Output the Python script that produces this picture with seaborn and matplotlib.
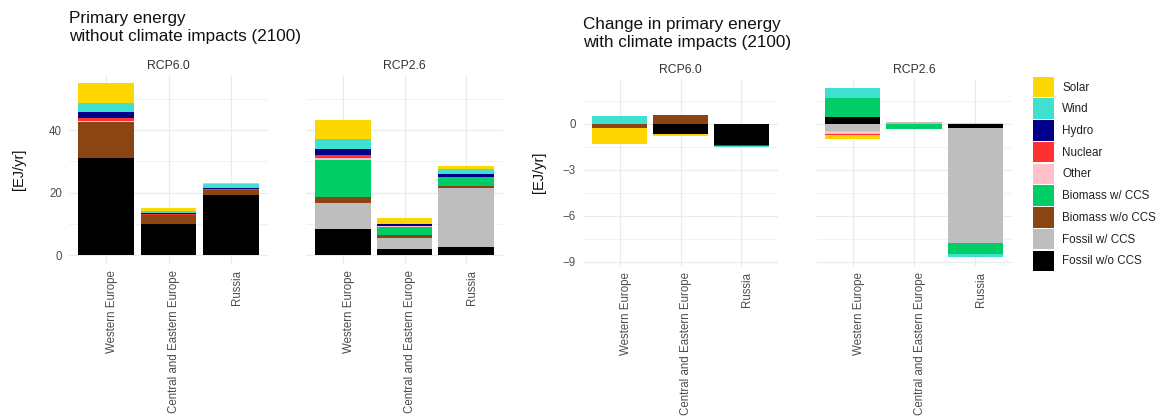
import numpy as np
import pandas as pd
import matplotlib
matplotlib.use("Agg")
import matplotlib.pyplot as plt
from matplotlib.patches import Patch
from matplotlib.ticker import MultipleLocator
import seaborn as sns

regions = ["Western Europe", "Central and Eastern Europe", "Russia"]
scenarios = ["RCP6.0", "RCP2.6"]
sources = ["Solar", "Wind", "Hydro", "Nuclear", "Other",
           "Biomass w/ CCS", "Biomass w/o CCS", "Fossil w/ CCS", "Fossil w/o CCS"]
source_colors = ["#FFD700", "#40E0D0", "#00008B", "#FF3030", "#FFC0CB",
                 "#00CD66", "#8B4513", "#BEBEBE", "#000000"]

# Primary energy in 2100 without climate impacts [EJ/yr]
# one row per source (same order as `sources`), columns follow `regions`
level_rcp60 = [
    [6.2, 1.0, 0.5],     # Solar
    [2.9, 0.6, 1.2],     # Wind
    [2.0, 0.45, 0.45],   # Hydro
    [0.85, 0.3, 0.3],    # Nuclear
    [0.43, 0.0, 0.0],    # Other
    [0.0, 0.0, 0.0],     # Biomass w/ CCS
    [11.5, 2.7, 1.6],    # Biomass w/o CCS
    [0.0, 0.0, 0.0],     # Fossil w/ CCS
    [31.1, 10.1, 19.2],  # Fossil w/o CCS
]
level_rcp26 = [
    [5.9, 1.7, 1.05],
    [3.4, 0.2, 1.7],
    [1.9, 0.6, 0.75],
    [0.7, 0.1, 0.0],
    [0.85, 0.3, 0.0],
    [11.6, 2.6, 2.95],
    [2.0, 0.9, 0.65],
    [8.2, 3.5, 18.7],
    [8.6, 2.0, 2.85],
]

# Change in primary energy in 2100 once climate impacts are included [EJ/yr]
change_rcp60 = [
    [-1.04, -0.08, 0.0],
    [0.5, 0.0, -0.1],
    [0.0, 0.0, 0.0],
    [0.0, 0.0, 0.0],
    [0.0, 0.0, 0.0],
    [0.0, -0.05, 0.0],
    [-0.26, 0.6, -0.08],
    [0.0, 0.0, 0.0],
    [0.0, -0.65, -1.36],
]
change_rcp26 = [
    [-0.26, 0.0, 0.0],
    [0.65, 0.0, -0.2],
    [-0.03, 0.0, 0.0],
    [-0.07, 0.0, 0.0],
    [-0.17, 0.0, 0.08],
    [1.23, -0.33, -0.71],
    [0.0, 0.0, 0.0],
    [-0.48, 0.1, -7.52],
    [0.47, 0.0, -0.26],
]

palette = dict(zip(sources, source_colors))


def to_long(table, scenario):
    rows = [(scenario, reg, src, v)
            for src, vals in zip(sources, table)
            for reg, v in zip(regions, vals)]
    return pd.DataFrame(rows, columns=["scenario", "region", "source", "value"])


levels = pd.concat([to_long(level_rcp60, "RCP6.0"), to_long(level_rcp26, "RCP2.6")])
changes = pd.concat([to_long(change_rcp60, "RCP6.0"), to_long(change_rcp26, "RCP2.6")])


def stack_reach(panel):
    """Cumulative extent of each source layer, positives up and negatives down."""
    wide = panel.pivot(index="source", columns="region", values="value").loc[sources, regions]
    out = []
    for part in (wide.clip(lower=0), wide.clip(upper=0)):
        out.append(part.iloc[::-1].cumsum().iloc[::-1])
    return out


def value_limits(df):
    lo, hi = 0.0, 0.0
    for sc in scenarios:
        pos, neg = stack_reach(df[df.scenario == sc])
        hi = max(hi, pos.to_numpy().max())
        lo = min(lo, neg.to_numpy().min())
    span = hi - lo
    return lo - 0.05 * span, hi + 0.05 * span


GRID = "#EBEBEB"
TICK = "#4D4D4D"


def draw_panel(ax, panel, ylim, major, minor, show_y, strip):
    for reach in stack_reach(panel):
        for src in sources:
            sns.barplot(x=regions, y=reach.loc[src].to_numpy(), order=regions,
                        color=palette[src], saturation=1, width=0.9,
                        linewidth=0, errorbar=None, ax=ax)
    ax.set_xlim(-0.6, 2.6)
    ax.set_ylim(*ylim)
    ax.yaxis.set_major_locator(MultipleLocator(major))
    ax.yaxis.set_minor_locator(MultipleLocator(minor))
    ax.set_axisbelow(True)
    ax.grid(which="major", color=GRID, lw=0.9)
    ax.grid(which="minor", axis="y", color=GRID, lw=0.45)
    for s in ax.spines.values():
        s.set_visible(False)
    ax.tick_params(which="both", length=0)
    ax.tick_params(axis="y", pad=5, labelsize=8.3, labelcolor=TICK)
    ax.tick_params(axis="x", pad=4.5, labelsize=8.3, labelcolor=TICK)
    ax.set_xticks(range(len(regions)))
    ax.set_xticklabels(regions, rotation=90, ha="left", va="top")
    if not show_y:
        ax.set_yticklabels([])
    ax.set_xlabel("")
    ax.set_ylabel("")
    ax.annotate(strip, xy=(0.5, 1.0), xycoords="axes fraction",
                xytext=(0, 6.5), textcoords="offset points",
                ha="center", va="center", fontsize=8.8, color="#333333")


sns.set_theme(style="white")
plt.rcParams["font.family"] = ["Liberation Sans", "DejaVu Sans"]

W, H = 1164, 419
fig = plt.figure(figsize=(W / 100, H / 100), dpi=100)


def box(left, top, right, bottom):
    return [left / W, 1 - bottom / H, (right - left) / W, (bottom - top) / H]


lim_left = value_limits(levels)
lim_right = value_limits(changes)

ax_l1 = fig.add_axes(box(69, 74.6, 268, 264.1))
ax_l2 = fig.add_axes(box(306, 74.6, 503, 264.1))
ax_r1 = fig.add_axes(box(583, 79.2, 778, 265.6))
ax_r2 = fig.add_axes(box(816, 79.2, 1012, 265.6))

draw_panel(ax_l1, levels[levels.scenario == "RCP6.0"], lim_left, 20, 10, True, "RCP6.0")
draw_panel(ax_l2, levels[levels.scenario == "RCP2.6"], lim_left, 20, 10, False, "RCP2.6")
draw_panel(ax_r1, changes[changes.scenario == "RCP6.0"], lim_right, 3, 1.5, True, "RCP6.0")
draw_panel(ax_r2, changes[changes.scenario == "RCP2.6"], lim_right, 3, 1.5, False, "RCP2.6")

# two-line panel titles, one baseline per line
title_style = dict(ha="left", va="baseline", fontsize=12.3, color="#111111")
fig.text(69 / W, 1 - 23.5 / H, "Primary energy", **title_style)
fig.text(69 / W, 1 - 41 / H, "without climate impacts (2100)", **title_style)
fig.text(583 / W, 1 - 28.5 / H, "Change in primary energy", **title_style)
fig.text(583 / W, 1 - 46.5 / H, "with climate impacts (2100)", **title_style)

fig.text(19 / W, 1 - 169 / H, "[EJ/yr]", rotation=90, ha="center", va="center",
         fontsize=10.5, color="#111111")
fig.text(539 / W, 1 - 172 / H, "[EJ/yr]", rotation=90, ha="center", va="center",
         fontsize=10.5, color="#111111")

handles = [Patch(facecolor=c, edgecolor="none") for c in source_colors]
fig.legend(handles, sources, loc="upper left",
           bbox_to_anchor=(1033 / W, 1 - 76.7 / H), frameon=False,
           fontsize=8.4, handlelength=1.8, handleheight=2.32, labelspacing=0.11,
           handletextpad=0.72, borderpad=0, borderaxespad=0, labelcolor="#222222")

fig.savefig("out.png", dpi=100, facecolor="white")
